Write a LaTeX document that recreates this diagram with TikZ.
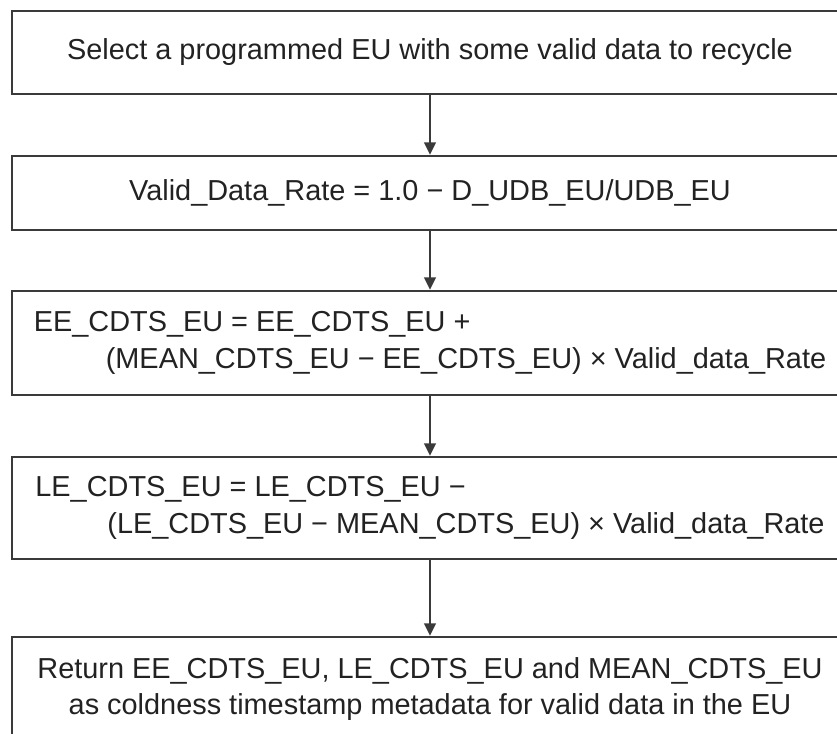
\documentclass[tikz,border=0pt]{standalone}
\usepackage{fontspec}
\setmainfont{Liberation Sans}
\usepackage{tikz}
\usetikzlibrary{arrows.meta}

\definecolor{boxline}{HTML}{3A3A3A}
\definecolor{boxtext}{HTML}{222222}

\begin{document}
\begin{tikzpicture}[
    stepbox/.style={draw=boxline, line width=0.7pt, minimum width=8.36cm,
      inner sep=0pt, text=boxtext, font=\fontsize{8.22pt}{10.4pt}\selectfont},
    flow/.style={draw=boxline, line width=0.55pt, -{Triangle[width=3.3pt,length=3.5pt]}}]
      \path[use as bounding box, clip] (0,0) rectangle (8.37,-7.33);
      \node[stepbox, minimum height=0.83cm] (select) at (4.30,-0.525)
        {Select a programmed EU with some valid data to recycle};
      \node[stepbox, minimum height=0.74cm] (rate) at (4.30,-1.93)
        {Valid\_Data\_Rate = 1.0 − D\_UDB\_EU/UDB\_EU};
      \node[stepbox, minimum height=1.04cm, align=left] (early) at (4.30,-3.43)
        {EE\_CDTS\_EU = EE\_CDTS\_EU +\\
         \hspace*{0.72cm}(MEAN\_CDTS\_EU − EE\_CDTS\_EU) × Valid\_data\_Rate};
      \node[stepbox, minimum height=1.02cm, align=left] (late) at (4.30,-5.08)
        {LE\_CDTS\_EU = LE\_CDTS\_EU −\\
         \hspace*{0.72cm}(LE\_CDTS\_EU − MEAN\_CDTS\_EU) × Valid\_data\_Rate};
      \node[stepbox, minimum height=1.04cm, align=center] (return) at (4.30,-6.89)
        {Return EE\_CDTS\_EU, LE\_CDTS\_EU and MEAN\_CDTS\_EU\\
         as coldness timestamp metadata for valid data in the EU};
      \draw[flow] (select) to (rate);
      \draw[flow] (rate) to (early);
      \draw[flow] (early) to (late);
      \draw[flow] (late) to (return);
    \end{tikzpicture}
\end{document}
